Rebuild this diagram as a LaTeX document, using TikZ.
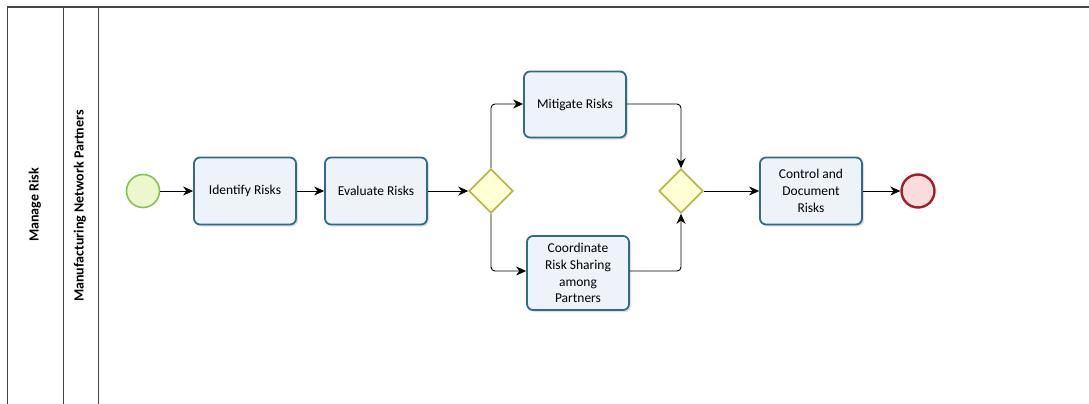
\documentclass[tikz,border=0pt]{standalone}
\usepackage{fontspec}
\setmainfont{Carlito}
\usetikzlibrary{arrows.meta,shapes.geometric,shadows}
\definecolor{taskfill}{HTML}{EEF3FA}
\definecolor{taskdraw}{HTML}{2F6C88}
\definecolor{gwfill}{HTML}{FFFFD6}
\definecolor{gwdraw}{HTML}{B4B43A}
\definecolor{stfill}{HTML}{EAF8CC}
\definecolor{stdraw}{HTML}{8DC04E}
\definecolor{enfill}{HTML}{F9DCDC}
\definecolor{endraw}{HTML}{A31E28}
\definecolor{lanedraw}{HTML}{444444}
\tikzset{
  x=1pt,y=-1pt,
  taskbox/.style={draw=taskdraw,fill=taskfill,line width=1.8pt,rounded corners=6pt,
    minimum width=102pt,minimum height=67pt,align=center,inner sep=2pt,
    font=\fontsize{13.5}{16.8}\selectfont,
    drop shadow={shadow xshift=2pt,shadow yshift=-2pt,fill=black!25,opacity=0.5}},
  gateway/.style={diamond,draw=gwdraw,fill=gwfill,line width=1.6pt,
    minimum width=44pt,minimum height=44pt,inner sep=0pt,aspect=1},
  startev/.style={circle,draw=stdraw,fill=stfill,line width=1.6pt,minimum size=33pt,inner sep=0pt},
  endev/.style={circle,draw=endraw,fill=enfill,line width=2.4pt,minimum size=33pt,inner sep=0pt},
  flow/.style={-{Stealth[length=10pt,width=9pt]},line width=0.9pt,black,rounded corners=4pt},
  lane/.style={draw=lanedraw,line width=1pt},
  lanelabel/.style={rotate=90,font=\fontsize{14}{16}\selectfont\bfseries}
}
\begin{document}
\begin{tikzpicture}
\useasboundingbox (0,0) rectangle (1089,404);
\fill[white] (0,0) rectangle (1089,404);
% pool and lane frame
\draw[lane,line width=1.4pt] (7,7) -- (1089,7);
\draw[lane] (7,7) -- (7,404);
\draw[lane] (63,7) -- (63,404);
\draw[lane] (98,7) -- (98,404);
\node[lanelabel] (pool) at (35,205) {Manage Risk};
\node[lanelabel] (lane) at (80,206) {Manufacturing Network Partners};
% elements
\node[startev] (start) at (143,191) {};
\node[taskbox] (identify) at (245,191) {Identify Risks};
\node[taskbox] (evaluate) at (376,191) {Evaluate Risks};
\node[gateway] (gw1) at (491,191) {};
\node[taskbox,minimum height=66pt] (mitigate) at (575,104.5) {Mitigate Risks};
\node[taskbox,minimum height=74pt] (coord) at (578,273) {Coordinate\\Risk Sharing\\among\\Partners};
\node[gateway] (gw2) at (681,191) {};
\node[taskbox] (control) at (811,191) {Control and\\Document\\Risks};
\node[endev] (end) at (918,191) {};
% flows
\draw[flow] (start) -- (identify);
\draw[flow] (identify) -- (evaluate);
\draw[flow] (evaluate) -- (gw1);
\draw[flow] (gw1.north) |- (mitigate.west|-0,104);
\draw[flow] (gw1.south) |- (coord.west|-0,271);
\draw[flow] (mitigate.east|-0,104) -| (gw2.north);
\draw[flow] (coord.east|-0,271) -| (gw2.south);
\draw[flow] (gw2) -- (control);
\draw[flow] (control) -- (end);
\end{tikzpicture}
\end{document}
